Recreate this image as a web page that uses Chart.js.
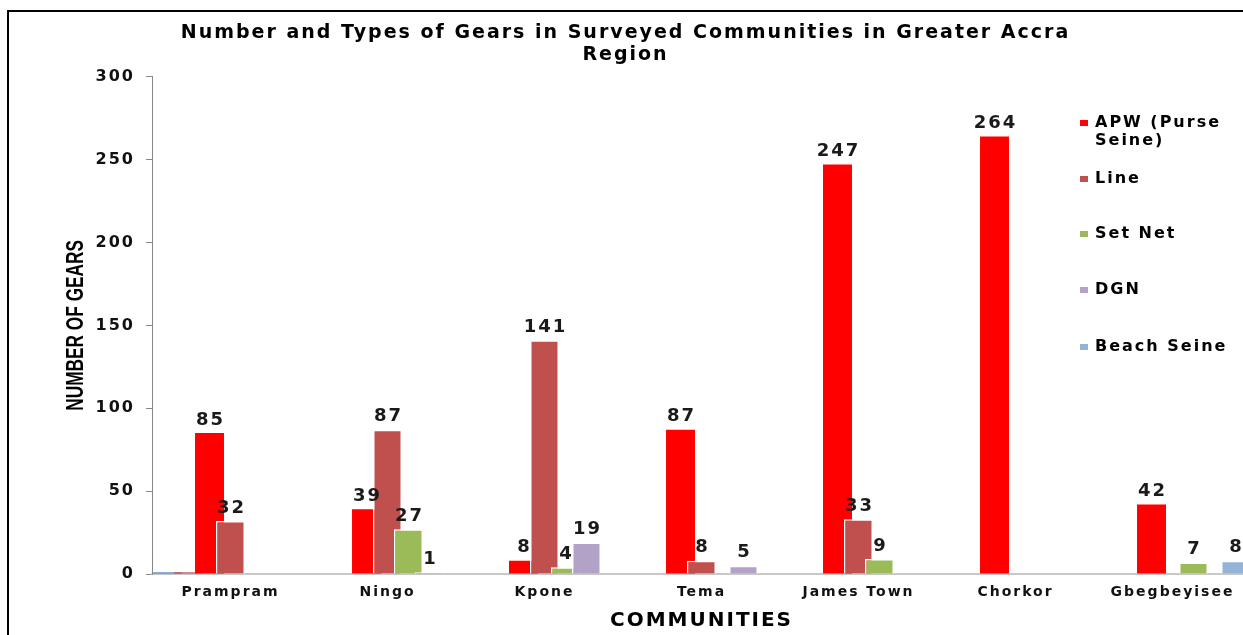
<!DOCTYPE html>
<html>
<head>
<meta charset="utf-8">
<script src="https://cdn.jsdelivr.net/npm/chart.js@4.4.1/dist/chart.umd.min.js"></script>
<style>
    html, body { margin: 0; padding: 0; background: #fff; overflow: hidden; }
    #wrap { position: relative; width: 1243px; height: 635px; overflow: hidden; }
    #frame { position: absolute; left: 7px; top: 10px; width: 1400px; height: 800px;
             border-left: 2px solid #000; border-top: 2px solid #000; pointer-events: none; }
    canvas { position: absolute; left: 0; top: 0; }
</style>
</head>
<body>
<div id="wrap">
    <canvas id="chart" width="1260" height="635"></canvas>
    <div id="frame"></div>
</div>
<script>
/* ============ Data ============ */
const communities = ["Prampram", "Ningo", "Kpone", "Tema", "James Town", "Chorkor", "Gbegbeyisee"];
const apwPurseSeine = [85, 39, 8, 87, 247, 264, 42];
const lineGear = [32, 87, 141, 8, 33, null, null];
const setNet = [null, 27, 4, null, 9, null, 7];
const dgn = [null, 1, 19, 5, null, null, null];
const beachSeine = [null, null, null, null, null, null, 8];
// two unlabelled near-zero bars sitting left of Prampram's group
const strayA = [1, null, null, null, null, null, null];
const strayB = [1, null, null, null, null, null, null];

const seriesNames = ["APW (Purse Seine)", "Line", "Set Net", "DGN", "Beach Seine"];

/* ============ Style ============ */
const FONT = "'DejaVu Sans', Verdana, sans-serif";
const COLORS = ["#FF0000", "#C0504D", "#9BBB59", "#B3A2C7", "#95B3D7"];
const SPACING = "2px"; // the reference text is drawn wide

const mk = (label, data, color, opts = {}) => Object.assign({
    label, data,
    backgroundColor: color,
    borderColor: "#ffffff",
    borderWidth: 1.5,
    borderSkipped: "start",
    barPercentage: 1.38,
    categoryPercentage: 0.936,
}, opts);

const datasets = [
    mk("stray A", strayA, "#4F81BD", {noLegend: true, borderWidth: 0}),
    mk("stray B", strayB, "#C0504D", {noLegend: true, borderWidth: 0}),
    mk(seriesNames[0], apwPurseSeine, COLORS[0], {borderWidth: 0, labelled: true}),
    mk(seriesNames[1], lineGear, COLORS[1], {labelled: true}),
    mk(seriesNames[2], setNet, COLORS[2], {labelled: true}),
    mk(seriesNames[3], dgn, COLORS[3], {labelled: true}),
    mk(seriesNames[4], beachSeine, COLORS[4], {labelled: true}),
];

/* ============ Plugins ============ */
// wider text everywhere (canvas state is reset on resize, so set it each pass)
const wideText = {
    id: "wideText",
    beforeLayout(chart) { chart.ctx.letterSpacing = SPACING; },
    beforeDraw(chart) { chart.ctx.letterSpacing = SPACING; }
};

function drawValueLabels(chart) {
    const ctx = chart.ctx;
    ctx.save();
    ctx.font = `bold 18px ${FONT}`;
    ctx.fillStyle = "#1a1a1a";
    ctx.textAlign = "center";
    ctx.textBaseline = "bottom";
    chart.data.datasets.forEach((ds, i) => {
        if (!ds.labelled) return;
        chart.getDatasetMeta(i).data.forEach((bar, j) => {
            const v = ds.data[j];
            if (v == null) return;
            ctx.fillText(String(v), bar.x + 1, bar.y - 4);
        });
    });
    ctx.restore();
}

// Chart.js paints the first dataset on top; Excel paints later series over earlier ones
const forwardBars = {
    id: "forwardBars",
    beforeDatasetsDraw(chart) {
        chart.getSortedVisibleDatasetMetas().forEach(m => m.controller.draw());
        drawValueLabels(chart);
        return false;
    }
};

const sideLegend = {
    id: "sideLegend",
    afterDraw(chart) {
        const ctx = chart.ctx;
        const ys = [123, 179, 234, 290, 347];
        ctx.save();
        ctx.font = `bold 16px ${FONT}`;
        ctx.textBaseline = "middle";
        ctx.textAlign = "left";
        let k = 0;
        chart.data.datasets.forEach(ds => {
            if (ds.noLegend) return;
            const y = ys[k++];
            ctx.fillStyle = ds.backgroundColor;
            ctx.fillRect(1080, y - 3, 8, 6);
            ctx.fillStyle = "#000";
            const words = ds.label.split(" ");
            const lines = [];
            let cur = "";
            for (const w of words) {
                const t = cur ? cur + " " + w : w;
                if (cur && ctx.measureText(t).width > 140) { lines.push(cur); cur = w; }
                else cur = t;
            }
            lines.push(cur);
            lines.forEach((ln, n) => ctx.fillText(ln, 1095, y + n * 18));
        });
        ctx.restore();
    }
};

// condensed bold y-axis title
const yTitle = {
    id: "yTitle",
    afterDraw(chart) {
        const ctx = chart.ctx;
        const a = chart.chartArea;
        ctx.save();
        ctx.letterSpacing = "0px";
        ctx.translate(76, (a.top + a.bottom) / 2);
        ctx.rotate(-Math.PI / 2);
        ctx.scale(0.72, 1);
        ctx.font = "bold 24px 'Liberation Sans', Arial, sans-serif";
        ctx.fillStyle = "#000";
        ctx.textAlign = "center";
        ctx.textBaseline = "middle";
        ctx.fillText("NUMBER OF GEARS", 0, 0);
        ctx.restore();
    }
};

/* ============ Chart ============ */
new Chart(document.getElementById("chart"), {
    type: "bar",
    data: {labels: communities, datasets},
    plugins: [wideText, forwardBars, sideLegend, yTitle],
    options: {
        responsive: false,
        animation: false,
        devicePixelRatio: 1,
        layout: {padding: {left: 0, right: 9, top: 0, bottom: 0}},
        plugins: {
            legend: {display: false},
            tooltip: {enabled: false},
            title: {
                display: true,
                text: ["Number and Types of Gears in Surveyed Communities in Greater Accra", "Region"],
                font: {family: FONT, weight: "bold", size: 19, lineHeight: 1.15},
                color: "#000",
                padding: {top: 22, bottom: 11}
            }
        },
        scales: {
            x: {
                grid: {display: false, drawTicks: false},
                border: {display: true, color: "#c8c8c8", width: 2},
                ticks: {font: {family: FONT, weight: "bold", size: 14}, color: "#111", padding: 10, maxRotation: 0},
                title: {
                    display: true, text: "COMMUNITIES", color: "#000",
                    font: {family: FONT, weight: "bold", size: 20, lineHeight: 1.2},
                    padding: {top: 4, bottom: 2}
                },
                afterFit(s) { s.height = 61; }
            },
            y: {
                min: 0, max: 300,
                ticks: {stepSize: 50, font: {family: FONT, weight: "bold", size: 16}, color: "#111", padding: 11},
                grid: {drawOnChartArea: false, drawTicks: true, tickLength: 6, color: "#888"},
                border: {display: true, color: "#888", width: 1},
                afterFit(s) { s.width = 152; }
            }
        }
    }
});
</script>
</body>
</html>
